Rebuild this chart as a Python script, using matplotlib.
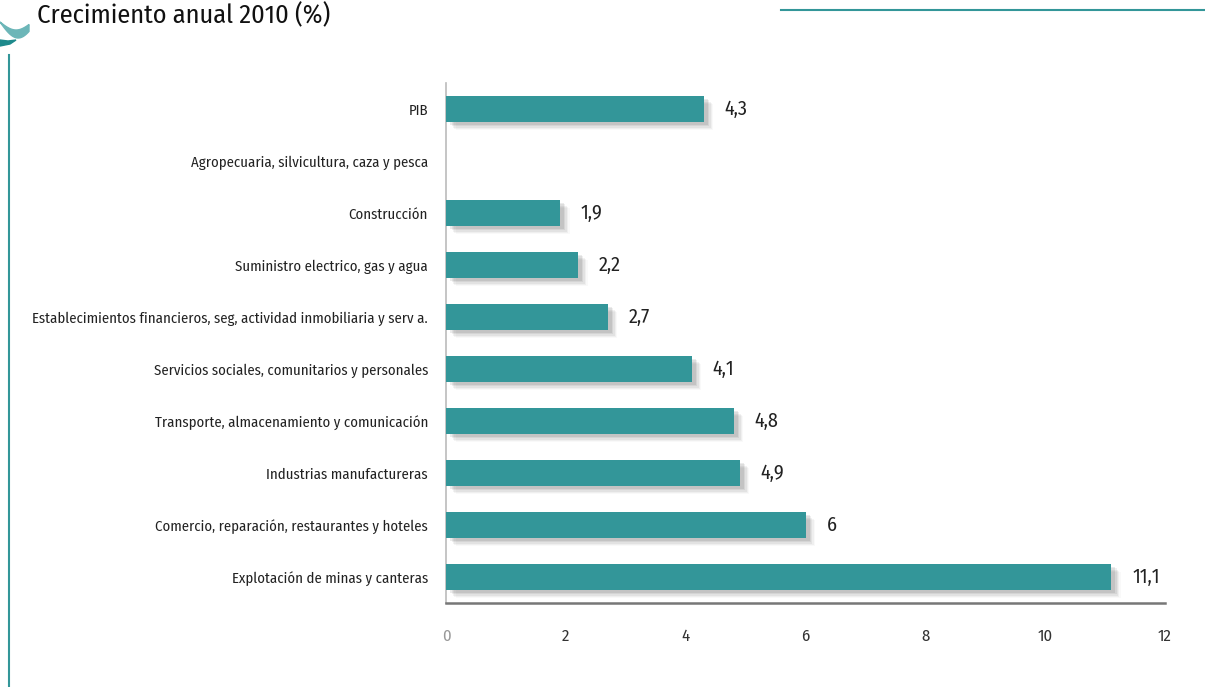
import numpy as np
import matplotlib
matplotlib.use("Agg")
import matplotlib.pyplot as plt
import matplotlib.patheffects as pe
from matplotlib.patches import Polygon
from matplotlib.lines import Line2D
from matplotlib import font_manager as fm

categories = [
    "Explotación de minas y canteras",
    "Comercio, reparación, restaurantes y hoteles",
    "Industrias manufactureras",
    "Transporte, almacenamiento y comunicación",
    "Servicios sociales, comunitarios y personales",
    "Establecimientos financieros, seg, actividad inmobiliaria y serv a.",
    "Suministro electrico, gas y agua",
    "Construcción",
    "Agropecuaria, silvicultura, caza y pesca",
    "PIB",
]
values = [11.1, 6, 4.9, 4.8, 4.1, 2.7, 2.2, 1.9, np.nan, 4.3]
value_labels = ["11,1", "6", "4,9", "4,8", "4,1", "2,7", "2,2", "1,9", "", "4,3"]
xticks = [0, 2, 4, 6, 8, 10, 12]
title = "Crecimiento anual 2010 (%)"

available = {f.name for f in fm.fontManager.ttflist}
prefs = ["Fira Sans Condensed", "Roboto Condensed", "PT Sans Narrow", "Archivo Narrow",
         "Liberation Sans Narrow", "Open Sans Condensed", "Encode Sans Condensed",
         "IBM Plex Sans Condensed", "Asap Condensed", "Barlow Semi Condensed"]
chosen = [p for p in prefs if p in available]
if chosen:
    FONT = [chosen[0], "DejaVu Sans"]
    STRETCH = "normal"
else:
    FONT = ["DejaVu Sans"]
    STRETCH = "condensed"
plt.rcParams["font.family"] = FONT
plt.rcParams["font.stretch"] = STRETCH

W, H = 1205, 687
fig = plt.figure(figsize=(W / 100, H / 100), dpi=100)
ax = fig.add_axes([446 / W, (H - 603) / H, (1165 - 446) / W, 520 / H])

teal = "#339699"
y = np.arange(len(categories))
shadow = [
    pe.SimplePatchShadow(offset=(7, -6), shadow_rgbFace="#000000", alpha=0.025),
    pe.SimplePatchShadow(offset=(6, -5), shadow_rgbFace="#000000", alpha=0.04),
    pe.SimplePatchShadow(offset=(5, -4), shadow_rgbFace="#000000", alpha=0.05),
    pe.SimplePatchShadow(offset=(4, -3), shadow_rgbFace="#000000", alpha=0.06),
    pe.SimplePatchShadow(offset=(3, -2), shadow_rgbFace="#000000", alpha=0.08),
    pe.Normal(),
]
vals = np.array(values, dtype=float)
bars = ax.barh(y, np.nan_to_num(vals), height=0.5, color=teal, zorder=3)
for b, v in zip(bars, vals):
    if np.isnan(v):
        b.set_visible(False)
    else:
        b.set_path_effects(shadow)

for yi, v, lab in zip(y, vals, value_labels):
    if not np.isnan(v) and lab:
        ax.text(v + 0.35, yi, lab, va="center", ha="left", fontsize=14.5, color="#222222")

ax.set_xlim(0, 12)
ax.set_ylim(-0.5, len(categories) - 0.5)
ax.set_yticks(y)
ax.set_yticklabels(categories, fontsize=11, color="#222222")
ax.set_xticks(xticks)
ax.set_xticklabels([str(t) for t in xticks], fontsize=12, color="#333333")
ax.get_xticklabels()[0].set_color("#999999")
ax.tick_params(axis="y", length=0, pad=13)
ax.tick_params(axis="x", length=0, pad=18)
for s in ["top", "right"]:
    ax.spines[s].set_visible(False)
ax.spines["left"].set_color("#bbbbbb")
ax.spines["left"].set_linewidth(1.2)
ax.spines["bottom"].set_color("#777777")
ax.spines["bottom"].set_linewidth(1.8)

# shrink labels if they would not fit (longest label should span ~392 px)
fig.canvas.draw()
r = fig.canvas.get_renderer()
longest = max(t.get_window_extent(r).width for t in ax.get_yticklabels())
if longest > 395:
    f = 11 * 392 / longest
    for t in ax.get_yticklabels():
        t.set_fontsize(f)

# title and decorations
fig.text(37 / W, 1 - 23 / H, title, fontsize=19, color="#111111", ha="left", va="baseline")
fig.add_artist(Line2D([781 / W, 1.0], [1 - 10 / H, 1 - 10 / H], color=teal, lw=1.5,
                      transform=fig.transFigure))
fig.add_artist(Line2D([8.5 / W, 8.5 / W], [0, 1 - 55 / H], color=teal, lw=1.5,
                      transform=fig.transFigure))
# crescent shapes
t = np.linspace(0, 1, 30)
upper = np.column_stack([t * 29, 22 + 8 * np.sin(np.pi * t * 0.9)])
lower = np.column_stack([t[::-1] * 29, 22 + 16 * np.sin(np.pi * t[::-1] * 0.8)])
pts = np.vstack([upper, lower])
fig.add_artist(Polygon(np.column_stack([pts[:, 0] / W, 1 - pts[:, 1] / H]),
                       closed=True, color="#6cb6b8", transform=fig.transFigure))
pts2 = np.array([[0, 40], [8, 41], [16, 40], [10, 44], [0, 46]])
fig.add_artist(Polygon(np.column_stack([pts2[:, 0] / W, 1 - pts2[:, 1] / H]),
                       closed=True, color="#1d8a8c", transform=fig.transFigure))

fig.savefig("out.png", dpi=100)
